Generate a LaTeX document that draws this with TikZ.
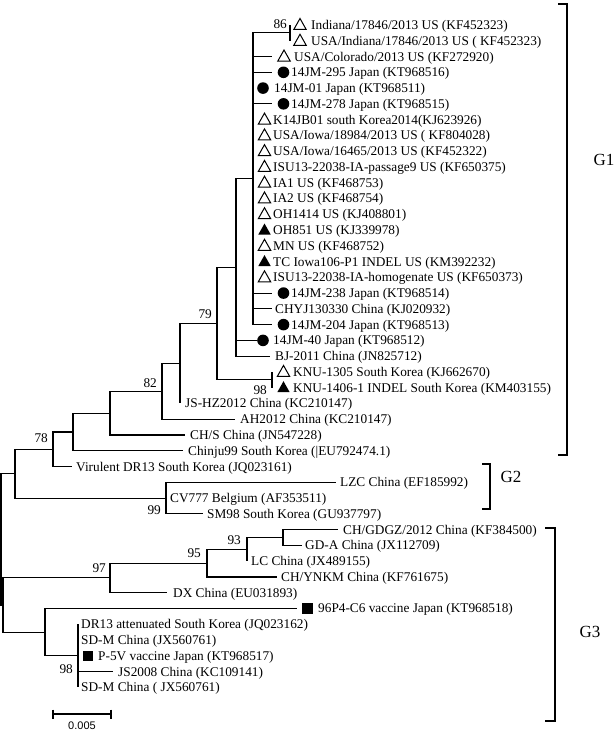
\documentclass[tikz,border=0pt]{standalone}
\usepackage{fontspec}
\setmainfont{Liberation Serif}
\newfontfamily\scalebarfont{Liberation Sans}
\newcommand\Y[1]{(25+15.77*(#1-1))}
\begin{document}
\begin{tikzpicture}[x=1pt,y=-1pt,
  br/.style={line width=1.1pt},
  lf/.style={anchor=base west, inner sep=0pt, font=\fontsize{13.3}{15}\selectfont},
  bsse/.style={anchor=south east, inner sep=0pt, font=\fontsize{13.3}{15}\selectfont},
  bsne/.style={anchor=north east, inner sep=0pt, font=\fontsize{13.3}{15}\selectfont},
  grp/.style={line width=2.5pt},
  glab/.style={font=\fontsize{17}{20}\selectfont, inner sep=0pt},
  otri/.pic={\draw[line width=1pt, line join=miter] (-6.2,4.5)--(6.2,4.5)--(0,-6.5)--cycle;},
  ftri/.pic={\fill (-6.2,4.5)--(6.2,4.5)--(0,-6.5)--cycle;},
  fcirc/.pic={\fill (0,0) circle (5.8pt);},
  fsq/.pic={\fill (-5.2,-5.2) rectangle (5.2,5.2);}]
\useasboundingbox (0,0) rectangle (615,733);

% ---------- leaf tips ----------
\coordinate (t1) at (290,{\Y{1}});
\coordinate (t2) at (290,{\Y{2}});
\coordinate (t3) at (272,{\Y{3}});
\coordinate (t4) at (272,{\Y{4}});
\coordinate (t5) at (253,{\Y{5}});
\coordinate (t6) at (272,{\Y{6}});
\foreach \i in {7,...,17} {\coordinate (t\i) at (253,{\Y{\i}});}
\coordinate (t18) at (272,{\Y{18}});
\coordinate (t19) at (272,{\Y{19}});
\coordinate (t20) at (272,{\Y{20}});
\coordinate (t21) at (257,{\Y{21}});
\coordinate (t22) at (270,{\Y{22}});
\coordinate (t23) at (272,{\Y{23}});
\coordinate (t24) at (272,{\Y{24}});
\coordinate (t25) at (180,{\Y{25}});
\coordinate (t26) at (235,{\Y{26}});
\coordinate (t27) at (185,{\Y{27}});
\coordinate (t28) at (183,{\Y{28}});
\coordinate (t29) at (72,{\Y{29}});
\coordinate (t30) at (336,{\Y{30}});
\coordinate (t31) at (166,{\Y{31}});
\coordinate (t32) at (203,{\Y{32}});
\coordinate (t33) at (338,{\Y{33}});
\coordinate (t34) at (302,{\Y{34}});
\coordinate (t35) at (247,{\Y{35}});
\coordinate (t36) at (277,{\Y{36}});
\coordinate (t37) at (167,{\Y{37}});
\coordinate (t38) at (297,{\Y{38}});
\coordinate (t39) at (78,{\Y{39}});
\coordinate (t40) at (78,{\Y{40}});
\coordinate (t41) at (78,{\Y{41}});
\coordinate (t42) at (113,{\Y{42}});
\coordinate (t43) at (78,{\Y{43}});

% ---------- internal nodes ----------
\coordinate (nA) at (290,32.89);
\coordinate (nB) at (253,178.76);
\coordinate (nC) at (236,267.47);
\coordinate (nK) at (272,379.83);
\coordinate (n79) at (217,323.65);
\coordinate (nD) at (180,363.57);
\coordinate (n82) at (162,391.41);
\coordinate (nE) at (110,413.22);
\coordinate (nF) at (73,432.0);
\coordinate (n78) at (53,449.28);
\coordinate (nG2) at (166,498.1);
\coordinate (nH) at (15,473.69);
\coordinate (nGD) at (283,537.53);
\coordinate (n93) at (247,549.36);
\coordinate (n95) at (207,563.16);
\coordinate (n97) at (110,577.94);
\coordinate (n98) at (78,655.8);
\coordinate (nI) at (45,632.15);
\coordinate (nJ) at (3,605.05);
\coordinate (root) at (1,539.37);

% ---------- branches ----------
\draw[br] (nA) |- (t1); \draw[br] (nA) |- (t2);
\draw[br] (nB) |- (nA);
\foreach \i in {3,...,20} {\draw[br] (nB) |- (t\i);}
\draw[br] (nC) |- (nB); \draw[br] (nC) |- (t21); \draw[br] (nC) |- (t22);
\draw[br] (nK) |- (t23); \draw[br] (nK) |- (t24);
\draw[br] (n79) |- (nC); \draw[br] (n79) |- (nK);
\draw[br] (nD) |- (n79); \draw[br] (nD) |- (t25);
\draw[br] (n82) |- (nD); \draw[br] (n82) |- (t26);
\draw[br] (nE) |- (n82); \draw[br] (nE) |- (t27);
\draw[br] (nF) |- (nE); \draw[br] (nF) |- (t28);
\draw[br] (n78) |- (nF); \draw[br] (n78) |- (t29);
\draw[br] (nG2) |- (t30); \draw[br] (nG2) |- (t31); \draw[br] (nG2) |- (t32);
\draw[br] (nH) |- (n78); \draw[br] (nH) |- (nG2);
\draw[br] (nGD) |- (t33); \draw[br] (nGD) |- (t34);
\draw[br] (n93) |- (nGD); \draw[br] (n93) |- (t35);
\draw[br] (n95) |- (n93); \draw[br] (n95) |- (t36);
\draw[br] (n97) |- (n95); \draw[br] (n97) |- (t37);
\foreach \i in {39,...,43} {\draw[br] (n98) |- (t\i);}
\draw[br] (nI) |- (t38); \draw[br] (nI) |- (n98);
\draw[br] (nJ) |- (n97); \draw[br] (nJ) |- (nI);
\draw[br] (root) |- (nH); \draw[br] (root) |- (nJ);

% ---------- markers ----------
\pic at (300,{\Y{1}}) {otri};
\pic at (300,{\Y{2}}) {otri};
\pic at (284,{\Y{3}}) {otri};
\pic at (283.5,{\Y{4}}) {fcirc};
\pic at (263,{\Y{5}}) {fcirc};
\pic at (283.5,{\Y{6}}) {fcirc};
\foreach \i in {7,...,13,15,17} {\pic at (264.5,{\Y{\i}}) {otri};}
\pic at (264.5,{\Y{14}}) {ftri};
\pic at (264.5,{\Y{16}}) {ftri};
\pic at (283.5,{\Y{18}}) {fcirc};
\pic at (283.5,{\Y{20}}) {fcirc};
\pic at (263,{\Y{21}}) {fcirc};
\pic at (283.5,{\Y{23}}) {otri};
\pic at (283.5,{\Y{24}}) {ftri};
\pic at (307.5,{\Y{38}}) {fsq};
\pic at (88,{\Y{41}}) {fsq};

% ---------- leaf labels ----------
\node[lf] (l1) at (311,{\Y{1}+4.5}) {Indiana/17846/2013 US (KF452323)};
\node[lf] (l2) at (311,{\Y{2}+4.5}) {USA/Indiana/17846/2013 US ( KF452323)};
\node[lf] (l3) at (294,{\Y{3}+4.5}) {USA/Colorado/2013 US (KF272920)};
\node[lf] (l4) at (291,{\Y{4}+4.5}) {14JM-295 Japan (KT968516)};
\node[lf] (l5) at (274,{\Y{5}+4.5}) {14JM-01 Japan (KT968511)};
\node[lf] (l6) at (291,{\Y{6}+4.5}) {14JM-278 Japan (KT968515)};
\node[lf] (l7) at (273,{\Y{7}+4.5}) {K14JB01 south Korea2014(KJ623926)};
\node[lf] (l8) at (273,{\Y{8}+4.5}) {USA/Iowa/18984/2013 US ( KF804028)};
\node[lf] (l9) at (273,{\Y{9}+4.5}) {USA/Iowa/16465/2013 US (KF452322)};
\node[lf] (l10) at (273,{\Y{10}+4.5}) {ISU13-22038-IA-passage9 US (KF650375)};
\node[lf] (l11) at (273,{\Y{11}+4.5}) {IA1 US (KF468753)};
\node[lf] (l12) at (273,{\Y{12}+4.5}) {IA2 US (KF468754)};
\node[lf] (l13) at (273,{\Y{13}+4.5}) {OH1414 US (KJ408801)};
\node[lf] (l14) at (273,{\Y{14}+4.5}) {OH851 US (KJ339978)};
\node[lf] (l15) at (273,{\Y{15}+4.5}) {MN US (KF468752)};
\node[lf] (l16) at (273,{\Y{16}+4.5}) {TC Iowa106-P1 INDEL US (KM392232)};
\node[lf] (l17) at (273,{\Y{17}+4.5}) {ISU13-22038-IA-homogenate US (KF650373)};
\node[lf] (l18) at (291,{\Y{18}+4.5}) {14JM-238 Japan (KT968514)};
\node[lf] (l19) at (275,{\Y{19}+4.5}) {CHYJ130330 China (KJ020932)};
\node[lf] (l20) at (291,{\Y{20}+4.5}) {14JM-204 Japan (KT968513)};
\node[lf] (l21) at (273,{\Y{21}+4.5}) {14JM-40 Japan (KT968512)};
\node[lf] (l22) at (275,{\Y{22}+4.5}) {BJ-2011 China (JN825712)};
\node[lf] (l23) at (293,{\Y{23}+4.5}) {KNU-1305 South Korea (KJ662670)};
\node[lf] (l24) at (293,{\Y{24}+4.5}) {KNU-1406-1 INDEL South Korea (KM403155)};
\node[lf] (l25) at (185,{\Y{25}+4.5}) {JS-HZ2012 China (KC210147)};
\node[lf] (l26) at (240,{\Y{26}+4.5}) {AH2012 China (KC210147)};
\node[lf] (l27) at (190,{\Y{27}+4.5}) {CH/S China (JN547228)};
\node[lf] (l28) at (188,{\Y{28}+4.5}) {Chinju99 South Korea (|EU792474.1)};
\node[lf] (l29) at (76,{\Y{29}+4.5}) {Virulent DR13 South Korea (JQ023161)};
\node[lf] (l30) at (340,{\Y{30}+4.5}) {LZC China (EF185992)};
\node[lf] (l31) at (170,{\Y{31}+4.5}) {CV777 Belgium (AF353511)};
\node[lf] (l32) at (207,{\Y{32}+4.5}) {SM98 South Korea (GU937797)};
\node[lf] (l33) at (343,{\Y{33}+4.5}) {CH/GDGZ/2012 China (KF384500)};
\node[lf] (l34) at (305,{\Y{34}+4.5}) {GD-A China (JX112709)};
\node[lf] (l35) at (251,{\Y{35}+4.5}) {LC China (JX489155)};
\node[lf] (l36) at (281,{\Y{36}+4.5}) {CH/YNKM China (KF761675)};
\node[lf] (l37) at (173,{\Y{37}+4.5}) {DX China (EU031893)};
\node[lf] (l38) at (318,{\Y{38}+4.5}) {96P4-C6 vaccine Japan (KT968518)};
\node[lf] (l39) at (81,{\Y{39}+4.5}) {DR13 attenuated South Korea (JQ023162)};
\node[lf] (l40) at (81,{\Y{40}+4.5}) {SD-M China (JX560761)};
\node[lf] (l41) at (98,{\Y{41}+4.5}) {P-5V vaccine Japan (KT968517)};
\node[lf] (l42) at (118,{\Y{42}+4.5}) {JS2008 China (KC109141)};
\node[lf] (l43) at (81,{\Y{43}+4.5}) {SD-M China ( JX560761)};

% ---------- bootstrap values ----------
\node[bsse] (b86) at ([xshift=-3pt,yshift=4pt]nA) {86};
\node[bsse] (b79) at ([xshift=-5pt,yshift=5pt]n79) {79};
\node[bsse] (b82) at ([xshift=-5pt,yshift=4pt]n82) {82};
\node[bsse] (b78) at ([xshift=-5pt,yshift=6pt]n78) {78};
\node[bsne] (b98a) at ([xshift=-5pt,yshift=-6pt]nK) {98};
\node[bsne] (b99) at ([xshift=-5pt,yshift=-7pt]nG2) {99};
\node[bsse] (b93) at ([xshift=-6pt,yshift=5pt]n93) {93};
\node[bsse] (b95) at ([xshift=-6pt,yshift=5pt]n95) {95};
\node[bsse] (b97) at ([xshift=-4pt,yshift=5pt]n97) {97};
\node[bsne] (b98b) at ([xshift=-5pt,yshift=-9pt]n98) {98};

% ---------- group brackets ----------
\draw[grp] (558,4) -- (567,4) -- (567,455) -- (558,455);
\node[glab] (g1) at (604,160) {G1};
\draw[grp] (482,464) -- (490,464) -- (490,509) -- (482,509);
\node[glab] (g2) at (511,477) {G2};
\draw[grp] (545,528) -- (555,528) -- (555,721) -- (545,721);
\node[glab] (g3) at (590,632) {G3};

% ---------- scale bar ----------
\coordinate (sb1) at (53,714);
\coordinate (sb2) at (111,714);
\draw[line width=1.6pt] (sb1) -- (sb2);
\draw[line width=1.6pt] ([yshift=4.5pt]sb1) -- ([yshift=-4.5pt]sb1);
\draw[line width=1.6pt] ([yshift=4.5pt]sb2) -- ([yshift=-4.5pt]sb2);
\node[inner sep=0pt, font=\scalebarfont\fontsize{11}{13}\selectfont] (sbl) at (82,726) {0.005};
\end{tikzpicture}
\end{document}
